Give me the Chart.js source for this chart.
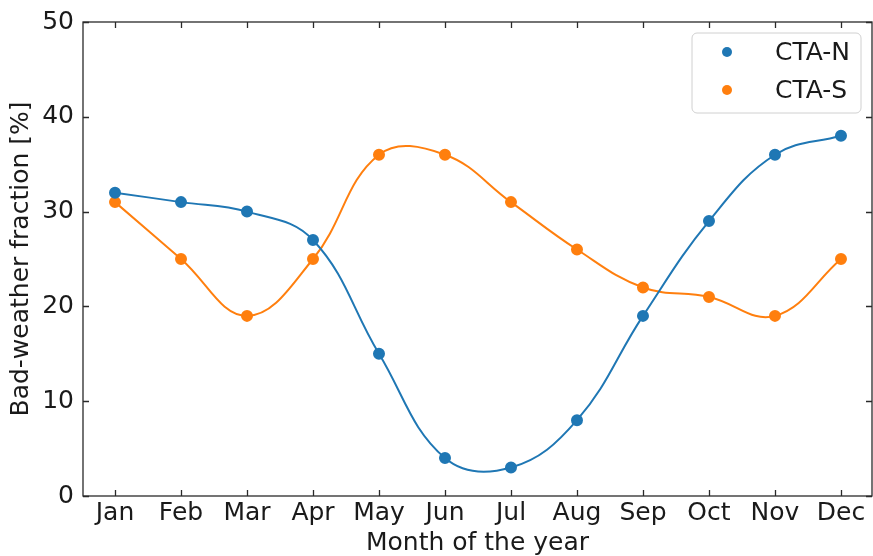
<!DOCTYPE html>
<html lang="en">
<head>
<meta charset="UTF-8" />
<title>Bad-weather fraction per month</title>
<script src="https://cdn.jsdelivr.net/npm/chart.js"></script>
<style>
  body { margin: 0; background: #fff; }
  #wrap { width: 873px; height: 556px; }
</style>
</head>
<body>
<div id="wrap"><canvas id="chart" width="873" height="556"></canvas></div>
<script>
  // data
  const months = ['Jan', 'Feb', 'Mar', 'Apr', 'May', 'Jun', 'Jul', 'Aug', 'Sep', 'Oct', 'Nov', 'Dec'];
  const ctaN = [32, 31, 30, 27, 15, 4, 3, 8, 19, 29, 36, 38];
  const ctaS = [31, 25, 19, 25, 36, 36, 31, 26, 22, 21, 19, 25];
  const yTicks = [0, 10, 20, 30, 40, 50];

  const blue = '#1f77b4';
  const orange = '#ff7f0e';
  const axisColor = '#2a2a2a';
  const textColor = '#1a1a1a';
  const fontFam = '"DejaVu Sans", sans-serif';
  const fontSize = 25;

  const toPoints = arr => arr.map((v, i) => ({ x: i, y: v }));

  // inward ticks on all four sides + frame + legend box, like matplotlib
  const frameTicks = {
    id: 'frameTicks',
    afterDraw(chart) {
      const { ctx, chartArea: a, scales } = chart;
      const len = 6;
      ctx.save();
      ctx.strokeStyle = axisColor;
      ctx.lineWidth = 1.3;
      ctx.strokeRect(a.left, a.top, a.right - a.left, a.bottom - a.top);
      ctx.beginPath();
      months.forEach((m, i) => {
        const x = Math.round(scales.x.getPixelForValue(i)) + 0.5;
        ctx.moveTo(x, a.bottom); ctx.lineTo(x, a.bottom - len);
        ctx.moveTo(x, a.top); ctx.lineTo(x, a.top + len);
      });
      yTicks.forEach(v => {
        const y = Math.round(scales.y.getPixelForValue(v)) + 0.5;
        ctx.moveTo(a.left, y); ctx.lineTo(a.left + len, y);
        ctx.moveTo(a.right, y); ctx.lineTo(a.right - len, y);
      });
      ctx.stroke();

      // legend box
      const bx = 692, by = 33, bw = 169, bh = 80;
      ctx.beginPath();
      ctx.roundRect(bx, by, bw, bh, 5);
      ctx.fillStyle = 'rgba(255,255,255,0.8)';
      ctx.fill();
      ctx.strokeStyle = '#d0d0d0';
      ctx.lineWidth = 1;
      ctx.stroke();
      ctx.font = fontSize + 'px ' + fontFam;
      ctx.textBaseline = 'middle';
      chart.data.datasets.forEach((ds, i) => {
        const cy = by + 19 + i * 38;
        ctx.beginPath();
        ctx.arc(bx + 35, cy, 5, 0, Math.PI * 2);
        ctx.fillStyle = ds.borderColor;
        ctx.fill();
        ctx.fillStyle = textColor;
        ctx.fillText(ds.label, bx + 83, cy + 1);
      });
      ctx.restore();
    }
  };

  new Chart(document.getElementById('chart'), {
    type: 'line',
    data: {
      datasets: [
        {
          label: 'CTA-N',
          data: toPoints(ctaN),
          borderColor: blue,
          backgroundColor: blue,
          borderWidth: 2,
          pointRadius: 5,
          tension: 0.4
        },
        {
          label: 'CTA-S',
          data: toPoints(ctaS),
          borderColor: orange,
          backgroundColor: orange,
          borderWidth: 2,
          pointRadius: 5,
          tension: 0.4
        }
      ]
    },
    options: {
      responsive: false,
      animation: false,
      layout: { autoPadding: false, padding: { top: 22, right: 1, left: 0, bottom: 0 } },
      plugins: { legend: { display: false }, tooltip: { enabled: false } },
      elements: { line: { capBezierPoints: false } },
      scales: {
        x: {
          type: 'linear',
          min: -0.485,
          max: 11.47,
          afterBuildTicks: s => { s.ticks = months.map((m, i) => ({ value: i })); },
          afterFit: s => { s.height = 60; },
          grid: { display: false, drawTicks: false },
          border: { display: false },
          ticks: {
            padding: 5,
            color: textColor,
            font: { family: fontFam, size: fontSize, lineHeight: 1 },
            maxRotation: 0,
            autoSkip: false,
            callback: v => months[v]
          },
          title: {
            display: true,
            text: 'Month of the year',
            color: textColor,
            font: { family: fontFam, size: fontSize, lineHeight: 1 },
            padding: { top: 0, bottom: 0 }
          }
        },
        y: {
          min: 0,
          max: 50,
          afterBuildTicks: s => { s.ticks = yTicks.map(v => ({ value: v })); },
          afterFit: s => { s.width = 83; },
          grid: { display: false, drawTicks: false },
          border: { display: false },
          ticks: {
            padding: 9,
            color: textColor,
            font: { family: fontFam, size: fontSize, lineHeight: 1 }
          },
          title: {
            display: true,
            text: 'Bad-weather fraction [%]',
            color: textColor,
            font: { family: fontFam, size: fontSize, lineHeight: 1 },
            padding: { top: 9, bottom: 0 }
          }
        }
      }
    },
    plugins: [frameTicks]
  });
</script>
</body>
</html>
